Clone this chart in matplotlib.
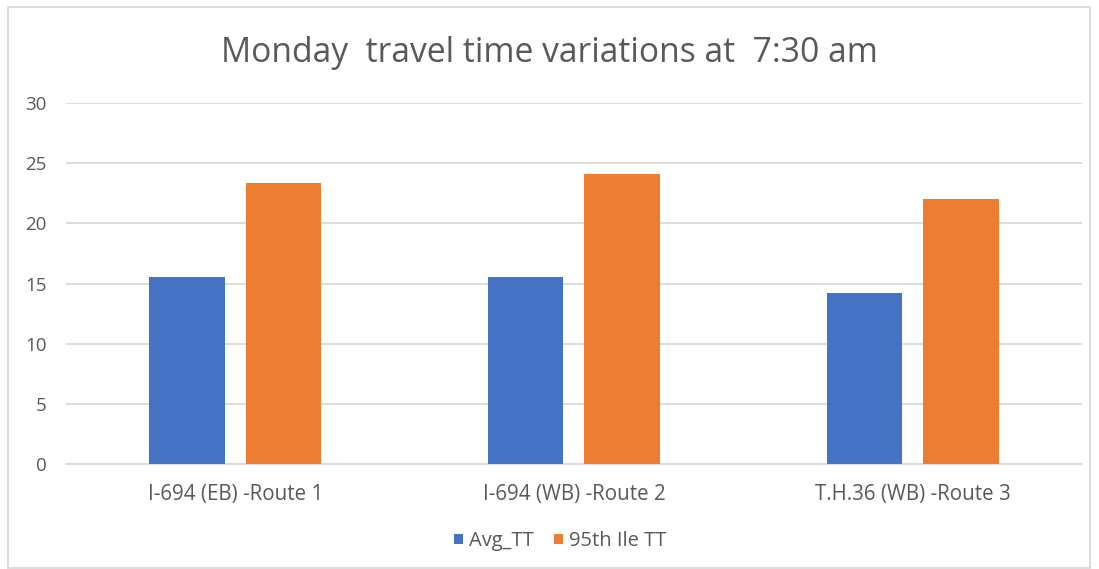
import matplotlib.pyplot as plt
import numpy as np

routes = ['I-694 (EB) -Route 1', 'I-694 (WB) -Route 2', 'T.H.36 (WB) -Route 3']
avg_tt = [15.57, 15.57, 14.24]
p95_tt = [23.32, 24.12, 22.04]
series_names = ['Avg_TT', '95th Ile TT']

BLUE = '#4472C4'
ORANGE = '#ED7D31'
TEXT = '#595959'
GRID = '#D9D9D9'

plt.rcParams['font.family'] = ['Open Sans', 'DejaVu Sans']

fig = plt.figure(figsize=(10.99, 5.69), dpi=100)
ax = fig.add_axes([0.060, 0.184, 0.9245, 0.6355])

x = np.arange(len(routes))
width = 0.223
offset = 0.1425
ax.bar(x - offset, avg_tt, width, color=BLUE, label=series_names[0], zorder=3)
ax.bar(x + offset, p95_tt, width, color=ORANGE, label=series_names[1], zorder=3)

ax.set_xlim(-0.5, len(routes) - 0.5)
ax.set_ylim(0, 30)
ax.set_yticks(range(0, 31, 5))
ax.set_xticks(x)
ax.set_xticklabels(routes)
ax.yaxis.grid(True, color=GRID, linewidth=1.3, zorder=0)
ax.tick_params(axis='both', length=0, colors=TEXT)
ax.tick_params(axis='y', pad=14, labelsize=13.5)
ax.tick_params(axis='x', pad=14, labelsize=14.8)
for side in ['top', 'right', 'left']:
    ax.spines[side].set_visible(False)
ax.spines['bottom'].set_color(GRID)
ax.spines['bottom'].set_linewidth(1.3)

fig.text(0.5, 0.907, 'Monday  travel time variations at  7:30 am',
         ha='center', va='center', fontsize=24.2, color=TEXT)

leg = fig.legend(loc='center', bbox_to_anchor=(0.51, 0.049), ncol=2, frameon=False,
                 fontsize=14.5, handlelength=0.45, handleheight=0.45,
                 handletextpad=0.3, columnspacing=1.0)
for t in leg.get_texts():
    t.set_color(TEXT)

# light frame around the chart area
fig.patches.append(plt.Rectangle((8 / 1099, 0.002), 1082 / 1099, 1 - 7 / 569 - 0.002,
                                 transform=fig.transFigure, fill=False,
                                 edgecolor=GRID, linewidth=1.3))

fig.savefig('out.png', dpi=100)
